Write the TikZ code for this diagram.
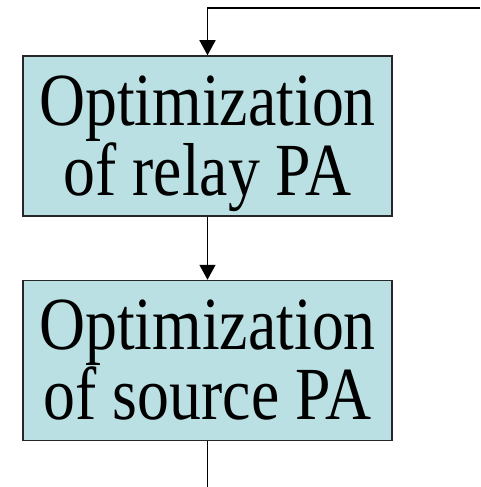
\documentclass[tikz,border=0pt]{standalone}
\usepackage{fontspec}
\setmainfont{Liberation Serif}
\usetikzlibrary{arrows.meta}
\definecolor{boxfill}{RGB}{187,224,227}
\tikzset{
  stage/.style={draw=black!85, line width=1.5pt, fill=boxfill,
    minimum width=369pt, minimum height=160pt, inner sep=0pt,
    align=center, font=\fontsize{75}{64}\selectfont,
    text height=118pt, text depth=0pt},
  flow/.style={line width=1.5pt, -{Triangle[width=16pt,length=15pt]}},
  plain/.style={line width=1.5pt}
}
\newcommand{\sq}[1]{\scalebox{0.85}[1]{#1}}
\begin{document}
\begin{tikzpicture}[x=1pt,y=-1pt]
  \useasboundingbox (0,0) rectangle (480,487);
  \node[stage] (relay) at (207.5,136) {\sq{Optimization}\\\sq{of relay PA}};
  \node[stage] (source) at (207.5,360.5) {\sq{Optimization}\\\sq{of source PA}};
  \coordinate (loopin) at (480,8);
  \coordinate (loopout) at (207.5,487);
  \draw[flow] (loopin) -- (relay.north |- loopin) -- (relay.north);
  \draw[flow] (relay.south) -- (source.north);
  \draw[plain] (source.south) -- (loopout);
\end{tikzpicture}
\end{document}
